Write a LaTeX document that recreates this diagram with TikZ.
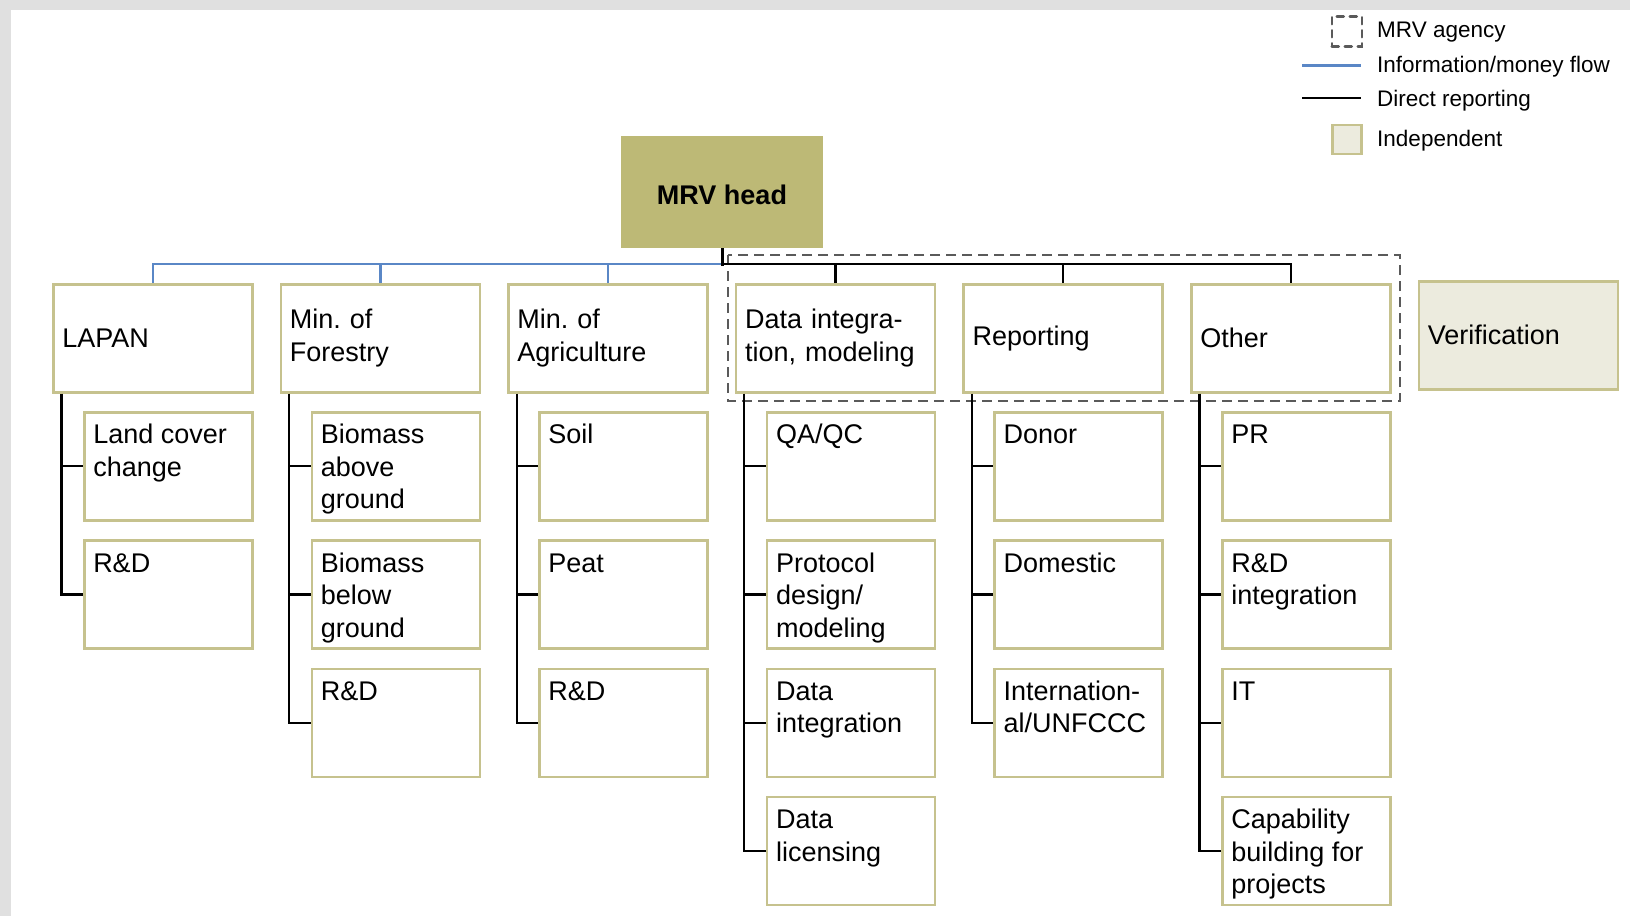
\documentclass[tikz,border=0pt]{standalone}
\usepackage{fontspec}
\setmainfont{Liberation Sans}
\definecolor{boxc}{HTML}{C6C28E}
\definecolor{headc}{HTML}{BDB976}
\definecolor{indepc}{HTML}{ECEBDE}
\definecolor{flowc}{HTML}{5A87C6}
\definecolor{stripc}{HTML}{E0E0E0}
\definecolor{dashc}{HTML}{5A5A5A}
\newcommand\subtxt[1]{\parbox[t][92pt][t]{150pt}{\raggedright\rule{0pt}{23.5pt}#1}}
\frenchspacing
\begin{document}
\frenchspacing
\begin{tikzpicture}[x=1pt,y=-1pt,
  topbox/.style={draw=boxc, line width=2.5pt, fill=white, anchor=north west,
    minimum height=108pt, text width=181pt, inner xsep=9pt, inner ysep=0pt,
    align=left, font=\fontsize{27}{32.5}\selectfont},
  subbox/.style={draw=boxc, line width=2.5pt, fill=white, anchor=north west,
    inner xsep=9pt, inner ysep=8pt, font=\fontsize{27}{32.5}\selectfont},
  headbox/.style={fill=headc, draw=headc, line width=1pt, anchor=north west,
    minimum width=201pt, minimum height=111pt, text height=25.5pt, text depth=0pt,
    font=\bfseries\fontsize{27}{31.5}\selectfont},
  indepbox/.style={topbox, fill=indepc},
  flow/.style={draw=flowc, line width=2.5pt},
  rep/.style={draw=black, line width=2.3pt},
  trunk/.style={draw=black, line width=2.3pt},
  agency/.style={draw=dashc, line width=2.8pt, dash pattern=on 10pt off 6pt},
  legtxt/.style={anchor=base west, inner sep=0pt, font=\fontsize{22.5}{27}\selectfont},
]
\useasboundingbox (0,0) rectangle (1630,916);
\fill[stripc] (0,0) rectangle (1630,10);
\fill[stripc] (0,0) rectangle (11,916);

% head
\node[headbox] (mrv) at (621,136) {MRV head};

% top row
\node[topbox] (lapan)  at (52,283)    {LAPAN};
\node[topbox] (forest) at (279.6,283) {Min. of\\Forestry};
\node[topbox] (agri)   at (507.2,283) {Min. of\\Agriculture};
\node[topbox] (data)   at (734.8,283) {Data integra-\\tion, modeling};
\node[topbox] (report) at (962.4,283) {Reporting};
\node[topbox] (other)  at (1190,283)  {Other};
\node[indepbox] (verif) at (1417.5,280) {Verification};

% sub boxes
\node[subbox] (lapanA) at (83,411)    {\subtxt{Land cover\\change}};
\node[subbox] (lapanB) at (83,539.3)  {\subtxt{R\&D}};

\node[subbox] (forestA) at (310.6,411)   {\subtxt{Biomass\\above\\ground}};
\node[subbox] (forestB) at (310.6,539.3) {\subtxt{Biomass\\below\\ground}};
\node[subbox] (forestC) at (310.6,667.6) {\subtxt{R\&D}};

\node[subbox] (agriA) at (538.2,411)   {\subtxt{Soil}};
\node[subbox] (agriB) at (538.2,539.3) {\subtxt{Peat}};
\node[subbox] (agriC) at (538.2,667.6) {\subtxt{R\&D}};

\node[subbox] (dataA) at (765.8,411)   {\subtxt{QA/QC}};
\node[subbox] (dataB) at (765.8,539.3) {\subtxt{Protocol\\design/\\modeling}};
\node[subbox] (dataC) at (765.8,667.6) {\subtxt{Data\\integration}};
\node[subbox] (dataD) at (765.8,795.9) {\subtxt{Data\\licensing}};

\node[subbox] (reportA) at (993.4,411)   {\subtxt{Donor}};
\node[subbox] (reportB) at (993.4,539.3) {\subtxt{Domestic}};
\node[subbox] (reportC) at (993.4,667.6) {\subtxt{Internation-\\al/UNFCCC}};

\node[subbox] (otherA) at (1221,411)   {\subtxt{PR}};
\node[subbox] (otherB) at (1221,539.3) {\subtxt{R\&D\\integration}};
\node[subbox] (otherC) at (1221,667.6) {\subtxt{IT}};
\node[subbox] (otherD) at (1221,795.9) {\subtxt{Capability\\building for\\projects}};

% MRV agency dashed frame
\draw[agency] (728,255) rectangle (1400,401);

% connectors from head
\coordinate (hub) at (mrv.south |- 0,264);
\draw[flow] (lapan.north) |- (hub);
\draw[flow] (forest.north) -- (forest.north |- hub);
\draw[flow] (agri.north) -- (agri.north |- hub);
\draw[rep] (hub) -| (other.north);
\draw[rep] (data.north) -- (data.north |- hub);
\draw[rep] (report.north) -- (report.north |- hub);
\draw[rep, line width=3pt] (mrv.south) -- ([yshift=-1.5pt]hub);

% trunks
\coordinate (lapanT)  at ([xshift=9.5pt]lapan.south west);
\coordinate (forestT) at ([xshift=9.5pt]forest.south west);
\coordinate (agriT)   at ([xshift=9.5pt]agri.south west);
\coordinate (dataT)   at ([xshift=9.5pt]data.south west);
\coordinate (reportT) at ([xshift=9.5pt]report.south west);
\coordinate (otherT)  at ([xshift=9.5pt]other.south west);

\draw[trunk] (lapanT) |- (lapanB.west);
\draw[trunk] (lapanT |- lapanA.west) -- (lapanA.west);

\draw[trunk] (forestT) |- (forestC.west);
\draw[trunk] (forestT |- forestA.west) -- (forestA.west);
\draw[trunk] (forestT |- forestB.west) -- (forestB.west);

\draw[trunk] (agriT) |- (agriC.west);
\draw[trunk] (agriT |- agriA.west) -- (agriA.west);
\draw[trunk] (agriT |- agriB.west) -- (agriB.west);

\draw[trunk] (dataT) |- (dataD.west);
\draw[trunk] (dataT |- dataA.west) -- (dataA.west);
\draw[trunk] (dataT |- dataB.west) -- (dataB.west);
\draw[trunk] (dataT |- dataC.west) -- (dataC.west);

\draw[trunk] (reportT) |- (reportC.west);
\draw[trunk] (reportT |- reportA.west) -- (reportA.west);
\draw[trunk] (reportT |- reportB.west) -- (reportB.west);

\draw[trunk] (otherT) |- (otherD.west);
\draw[trunk] (otherT |- otherA.west) -- (otherA.west);
\draw[trunk] (otherT |- otherB.west) -- (otherB.west);
\draw[trunk] (otherT |- otherC.west) -- (otherC.west);

% legend
\node[draw=dashc, line width=2.5pt, dash pattern=on 7pt off 6pt, line cap=round, minimum size=30pt, inner sep=0pt, anchor=north west] (legA) at (1330.5,15) {};
\coordinate (legB1) at (1302,65);
\coordinate (legB2) at (1361,65);
\coordinate (legC1) at (1302,98);
\coordinate (legC2) at (1361,98);
\draw[flow, line width=3pt] (legB1) -- (legB2);
\draw[draw=black, line width=2pt] (legC1) -- (legC2);
\node[draw=boxc, fill=indepc, line width=2.5pt, minimum size=29pt, inner sep=0pt, anchor=north west] (legD) at (1331,123.5) {};
\node[legtxt] (legAt) at (1377,37)  {MRV agency};
\node[legtxt] (legBt) at (1377,72)  {Information/money flow};
\node[legtxt] (legCt) at (1377,106) {Direct reporting};
\node[legtxt] (legDt) at (1377,146) {Independent};
\end{tikzpicture}
\end{document}
